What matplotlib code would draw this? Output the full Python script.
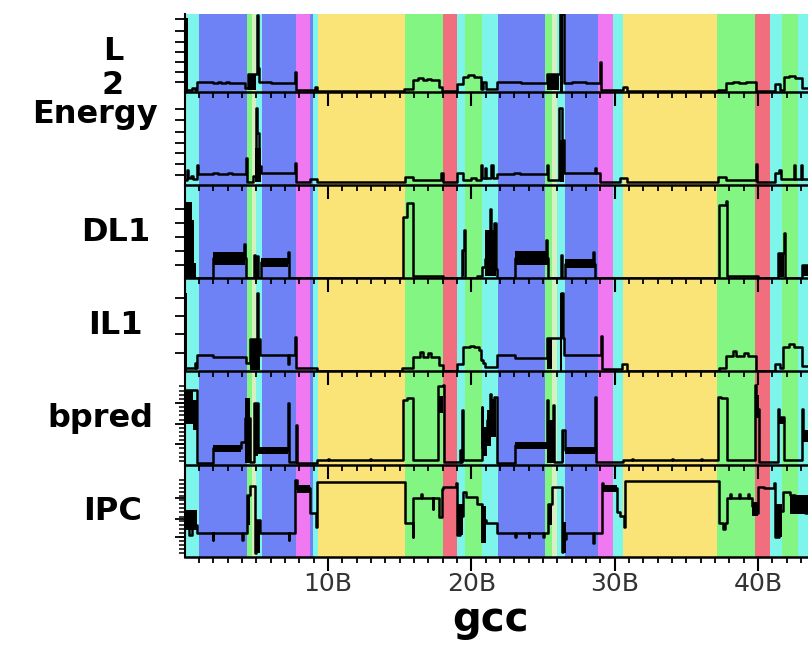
import matplotlib
matplotlib.use("Agg")
import matplotlib.pyplot as plt
import numpy as np

# phase bands along the run (billions of instructions)
band_edges = [0, 1.0, 4.35, 4.7, 5.0, 5.4, 7.77, 8.74, 8.96, 9.3, 15.37, 18.03, 19.0, 19.56,
              20.74, 21.86, 25.14, 25.6, 26.0, 26.54, 28.84, 29.9, 30.6, 37.15, 39.8, 40.85,
              41.68, 42.8, 43.5]
band_kind = ['c', 'b', 'g', 'p', 'c', 'b', 'm', 'b', 'c', 'y', 'g', 'r', 'c', 'g',
             'c', 'b', 'g', 'p', 'c', 'b', 'm', 'c', 'y', 'g', 'r', 'c', 'g', 'c']
band_colors = {'c': '#7df5eb', 'b': '#6e82f5', 'g': '#82f582', 'p': '#d8f0c0',
               'm': '#f078f0', 'y': '#fae478', 'r': '#f06e7d'}

panel_names = ['L\n2', 'Energy', 'DL1', 'IL1', 'bpred', 'IPC']

# step traces: (x start, level)  -- level in % of panel height
l2_steps = [(0.0, 2.5), (0.5, 5), (0.7, 2.5), (0.84, 12.4), (2.0, 11), (2.3, 12.4), (2.5, 11),
            (2.9, 12.4), (3.1, 11), (3.5, 12), (3.7, 11), (4.2, 5), (4.45, 23), (5.04, 99),
            (5.12, 31), (5.18, 12.4), (6.0, 11), (6.5, 12), (7.0, 11), (7.68, 26), (7.75, 2),
            (9.1, 6), (9.25, 1.5), (15.3, 4), (15.9, 15.4), (16.3, 18), (16.6, 15), (16.9, 17),
            (17.2, 15), (17.75, 6), (17.95, 1.5), (19.0, 10), (19.4, 18.8), (19.8, 22),
            (20.2, 19), (20.7, 4), (20.85, 13), (21.0, 4), (21.77, 13), (23.5, 11), (24.0, 12),
            (24.5, 11), (25.3, 23), (26.2, 100), (26.45, 12), (27.0, 13), (28.0, 11),
            (28.97, 39), (29.05, 2.6), (30.6, 6), (30.85, 1.5), (37.2, 3), (37.8, 11),
            (38.3, 13), (38.7, 11), (39.2, 12.5), (39.9, 1.5), (41.2, 10), (41.55, 3),
            (41.8, 18.8), (42.2, 21), (42.6, 18), (43.05, 5)]
l2_blocks = [(0.0, 0.25, 0, 95), (4.45, 5.0, 3, 23), (25.3, 26.1, 3, 23), (26.2, 26.4, 0, 100)]

energy_steps = [(0.0, 5), (0.15, 16), (0.25, 7), (0.45, 10), (0.6, 6), (0.84, 21.5), (0.9, 11.8),
                (2.0, 12.5), (2.3, 11.8), (3.0, 12.5), (3.3, 11.8), (4.25, 29), (4.32, 3.6),
                (4.75, 10), (5.0, 83), (5.08, 56), (5.2, 20), (5.3, 12.5), (6.0, 13.3),
                (6.4, 12.5), (7.68, 23.6), (7.75, 3.6), (8.75, 6.4), (9.2, 3.6), (15.37, 9),
                (15.9, 5.4), (17.9, 12.5), (18.0, 3.6), (19.0, 13.3), (19.4, 5.4), (20.0, 8),
                (20.3, 5.4), (20.65, 21.5), (20.72, 8), (20.95, 18), (21.05, 8), (21.4, 21.5),
                (21.5, 8), (21.77, 11.8), (23.0, 12.5), (23.4, 11.8), (25.3, 21.5),
                (25.38, 5.4), (26.15, 83), (26.35, 48), (26.5, 12.5), (27.0, 13.3),
                (28.2, 12.5), (28.6, 18), (28.68, 12.5), (29.0, 3.6), (30.4, 8), (30.85, 3.6),
                (37.2, 9), (37.8, 5.4), (39.88, 22.6), (39.95, 3.6), (41.2, 12.5), (41.5, 16),
                (41.6, 6.4), (42.55, 21.5), (42.62, 6.4), (43.0, 21.5), (43.08, 6.4)]
energy_blocks = [(4.9, 5.3, 3, 40), (26.2, 26.45, 3, 48)]

dl1_steps = [(0.0, 0), (2.0, 21), (4.14, 37), (4.22, 21), (4.28, 0), (4.84, 24.7), (4.9, 0),
             (5.07, 23.6), (5.13, 0), (5.3, 17.5), (7.2, 28), (7.26, 0), (15.26, 66),
             (15.5, 81), (15.95, 2), (18.0, 0), (19.33, 30), (19.5, 52), (19.58, 0),
             (20.38, 2), (20.75, 12), (20.95, 20), (21.3, 74), (21.36, 40), (21.62, 59.5),
             (21.7, 10), (21.77, 0), (23.05, 21), (25.2, 41), (25.26, 21), (25.37, 0),
             (26.24, 24.7), (26.3, 0), (26.54, 15), (28.5, 28.3), (28.56, 15), (28.63, 0),
             (37.3, 78.5), (37.77, 82.8), (37.86, 2.1), (40.0, 0), (41.4, 27), (41.83, 48),
             (41.9, 0), (43.05, 14)]
dl1_blocks = [(0.0, 0.5, 0, 82), (0.5, 0.62, 0, 62), (0.62, 0.8, 0, 16), (2.0, 4.2, 14, 28),
              (5.3, 7.23, 11.5, 21.8), (19.33, 19.5, 2, 30), (20.95, 21.7, 2, 52),
              (23.05, 25.37, 14, 29), (26.54, 28.63, 10.4, 20), (41.4, 41.8, 1.4, 27),
              (43.05, 43.5, 2, 14)]

il1_steps = [(0.0, 2.9), (0.7, 8.2), (0.76, 2.9), (0.84, 17.2), (2.0, 14.7), (4.28, 9),
             (4.56, 34), (5.05, 83.5), (5.12, 34), (5.26, 17.2), (7.2, 8), (7.3, 17.2),
             (7.68, 37), (7.75, 2.9), (8.8, 3.5), (9.2, 0.5), (15.2, 3), (15.9, 15.4),
             (16.4, 20.4), (16.6, 15.4), (17.0, 19), (17.2, 15.4), (17.77, 6.5), (18.0, 0.5),
             (19.0, 7.2), (19.4, 25.4), (19.9, 26.9), (20.2, 25.4), (20.55, 22.6),
             (20.7, 12), (20.85, 8.2), (20.95, 4), (21.77, 17.2), (23.05, 14.3), (25.26, 35),
             (26.25, 83.5), (26.4, 35), (26.5, 17.2), (29.05, 37.6), (29.12, 1.8),
             (30.5, 7.5), (30.85, 0.5), (37.3, 3), (37.8, 16), (38.3, 21.8), (38.5, 16),
             (39.0, 19), (39.3, 16), (39.9, 0.5), (41.2, 7.2), (41.55, 3), (41.77, 26),
             (42.2, 28.9), (42.5, 26), (43.05, 5)]
il1_blocks = [(0.0, 0.15, 0, 84), (4.56, 5.26, 1, 34), (25.3, 25.6, 2, 35), (26.2, 26.35, 0, 83.5)]

bpred_steps = [(0.0, 80), (0.84, 1.8), (2.0, 17.7), (3.9, 24.8), (4.2, 50), (4.56, 3.5),
               (4.84, 65.6), (5.14, 16), (7.2, 65.6), (7.26, 3.5), (7.75, 42.6), (7.82, 1.8),
               (9.2, 5.3), (10.0, 6.5), (10.1, 5.3), (12.9, 6.5), (13.0, 5.3), (15.26, 69),
               (15.5, 71), (15.95, 5.3), (17.7, 84), (18.02, 85), (18.08, 3.5), (19.2, 16),
               (19.26, 3.5), (19.33, 58.5), (19.4, 5.3), (20.72, 62), (20.78, 19.5),
               (20.9, 30), (21.0, 38), (21.1, 48), (21.2, 55), (21.3, 76), (21.36, 60),
               (21.5, 68), (21.6, 72.7), (21.77, 1.8), (23.05, 21.3), (25.26, 69),
               (25.32, 35), (25.72, 64), (25.78, 3.5), (26.3, 37), (26.54, 16), (28.63, 72.7),
               (28.7, 3.5), (30.6, 5.8), (31.0, 5.3), (31.2, 6.5), (31.3, 5.3), (34.0, 6.5),
               (34.1, 5.3), (36.0, 6.5), (36.1, 5.3), (37.24, 72.7), (37.4, 71), (37.82, 5.3),
               (39.8, 85), (39.86, 60), (40.1, 3.5), (41.42, 60), (41.5, 51), (41.8, 5.3),
               (43.05, 60), (43.12, 30)]
bpred_blocks = [(0.0, 0.55, 44, 80), (0.55, 0.84, 37, 69), (2.0, 3.9, 14, 21), (4.2, 4.56, 2, 71),
                (4.84, 5.14, 10, 65), (5.14, 7.2, 12, 19), (17.7, 18.0, 55, 73),
                (20.8, 21.1, 10, 40), (21.1, 21.4, 20, 58), (21.4, 21.7, 30, 70),
                (23.05, 25.26, 17, 25), (25.3, 25.8, 2, 48), (26.3, 26.5, 3, 37),
                (26.54, 28.63, 12, 19), (39.85, 40.05, 50, 75), (41.5, 41.8, 44, 51),
                (43.1, 43.5, 25, 37)]

ipc_steps = [(0.0, 40), (0.25, 49), (0.32, 24), (0.5, 35), (0.84, 25.7), (1.95, 18.5),
             (2.0, 25.7), (4.0, 18.5), (4.06, 25.7), (4.33, 67), (4.56, 77), (4.9, 4),
             (5.0, 40), (5.26, 25.7), (7.25, 18.5), (7.3, 25.7), (7.7, 83.7), (7.82, 74.6),
             (8.75, 48), (9.15, 33), (9.25, 81.8), (15.37, 36.6), (15.9, 22), (15.95, 63.8),
             (16.5, 69), (16.56, 63.8), (17.3, 52), (17.36, 63.8), (17.77, 43.8),
             (17.93, 73.6), (18.05, 76.4), (18.95, 80.8), (19.0, 24), (19.2, 45), (19.4, 71),
             (19.66, 65.5), (20.38, 58), (20.72, 40), (21.0, 36.6), (21.77, 25.7),
             (23.05, 22), (23.1, 25.7), (24.0, 22), (24.06, 25.7), (25.0, 22), (25.06, 25.7),
             (25.37, 58), (25.6, 76.4), (26.3, 5.8), (26.4, 20), (26.6, 25.7), (28.5, 15),
             (28.56, 25.7), (29.1, 80), (29.2, 74.6), (30.15, 49), (30.4, 45), (30.66, 33),
             (30.73, 83), (37.3, 36.6), (37.6, 30), (37.7, 36.6), (37.82, 63.8), (38.05, 69),
             (38.1, 63.8), (38.7, 69), (38.75, 63.8), (39.3, 69), (39.35, 63.8), (39.57, 55),
             (39.8, 48), (40.03, 76.4), (40.4, 74.6), (41.15, 80), (41.2, 22), (41.5, 50),
             (41.77, 71), (42.24, 67), (42.6, 60), (43.0, 52), (43.3, 47.5)]
ipc_blocks = [(0.0, 0.84, 29, 51), (4.33, 4.56, 35, 67), (4.9, 5.26, 4, 40), (7.82, 8.75, 70, 78),
              (19.0, 19.4, 24, 58), (20.7, 21.0, 15, 55), (25.37, 25.6, 35, 58),
              (26.4, 26.6, 4, 38), (29.1, 30.15, 71, 78), (39.57, 40.0, 45, 60),
              (41.2, 41.7, 22, 58), (42.24, 43.5, 47, 67)]

steps = [l2_steps, energy_steps, dl1_steps, il1_steps, bpred_steps, ipc_steps]
blocks = [l2_blocks, energy_blocks, dl1_blocks, il1_blocks, bpred_blocks, ipc_blocks]

# y tick marks on each panel's left axis (% of panel height)
yticks_major = [[13.2, 26, 38.8, 51.7, 64.5, 78.6, 94],
                [10.8, 22.6, 34.4, 45.5, 57.3, 69.9, 81.4],
                [14, 29.4, 44.4, 59.5, 73.9],
                [19.7, 39.5, 59.1, 78.5],
                [22.3, 43.6, 65.6],
                [21.4, 41, 63.8]]
xtick_labels = ['10B', '20B', '30B', '40B']
x_end = 43.5

W, H = 808, 650
fig = plt.figure(figsize=(W / 100, H / 100), dpi=100)
left_px = 184.7
panel_px = [(14, 92), (92, 185), (185, 278), (278, 371), (371, 465), (465, 557)]

for i, (top, bot) in enumerate(panel_px):
    ax = fig.add_axes([left_px / W, 1 - bot / H, 1 - left_px / W, (bot - top) / H])
    ax.set_zorder(10 - i)
    ax.patch.set_visible(False)
    for k in range(len(band_kind)):
        ax.axvspan(band_edges[k], band_edges[k + 1], color=band_colors[band_kind[k]],
                   lw=0, zorder=0)
    xs = [p[0] for p in steps[i]] + [x_end]
    ys = [p[1] for p in steps[i]]
    ys = ys + [ys[-1]]
    ax.step(xs, ys, where='post', color='k', lw=1.8, zorder=3)
    for (x0, x1, lo, hi) in blocks[i]:
        ax.fill_between([x0, x1], [lo, lo], [hi, hi], color='k', lw=0, zorder=3)
    ax.set_xlim(0, x_end)
    ax.set_ylim(0, 100)
    for s in ['top', 'right']:
        ax.spines[s].set_visible(False)
    ax.spines['bottom'].set_linewidth(1.8)
    ax.spines['left'].set_linewidth(1.5)
    ax.spines['bottom'].set_zorder(5)

    ax.set_xticks([10, 20, 30, 40])
    ax.set_xticks(np.arange(1, 44), minor=True)
    ax.tick_params(axis='x', which='major', direction='out', length=10, width=1.5)
    ax.tick_params(axis='x', which='minor', direction='out', length=4, width=1.3)
    ax.set_yticks(yticks_major[i])
    ax.tick_params(axis='y', which='major', direction='out', length=7, width=1.3)
    ax.set_yticklabels([])
    if i >= 4:
        ax.set_yticks(np.arange(4.4, 84, 4.4), minor=True)
        ax.tick_params(axis='y', which='minor', direction='out', length=4, width=1.1)
    if i == 5:
        ax.set_xticklabels(xtick_labels, fontsize=18, color='#333333')
        ax.tick_params(axis='x', which='major', pad=1)
    else:
        ax.set_xticklabels([])

# row labels
label_pos = [(113, 52), (95, 114), (116, 233), (115, 325), (100, 418), (113, 512)]
for name, (px, py) in zip(panel_names, label_pos):
    if name == 'L\n2':
        fig.text(px / W, 1 - 52 / H, 'L', ha='center', va='center', fontsize=23, fontweight='bold')
        fig.text(px / W, 1 - 86 / H, '2', ha='center', va='center', fontsize=23, fontweight='bold')
    else:
        fig.text(px / W, 1 - py / H, name, ha='center', va='center', fontsize=23,
                 fontweight='bold')

fig.text(491 / W, 1 - 620 / H, 'gcc', ha='center', va='center', fontsize=29, fontweight='bold')

fig.savefig('out.png', dpi=100)
